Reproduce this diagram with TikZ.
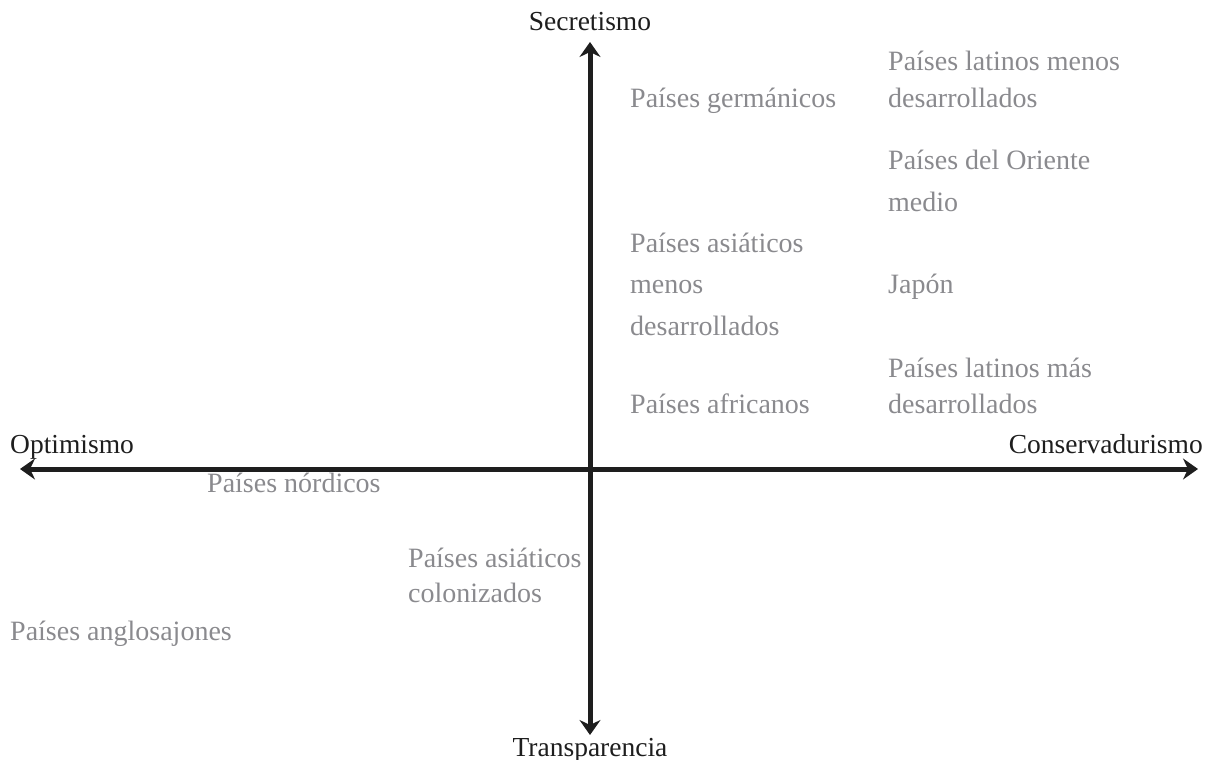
\documentclass[tikz,border=0pt]{standalone}
\usepackage{fontspec}
\setmainfont{Liberation Serif}
\usetikzlibrary{arrows.meta}
\definecolor{axisc}{HTML}{1E1E1E}
\definecolor{grayt}{HTML}{8A8A8E}
\tikzset{
  axislabel/.style={inner sep=0pt, text=axisc, font=\fontsize{27.5}{38}\selectfont, anchor=base},
  country/.style={inner sep=0pt, text=grayt, align=left, anchor=base west, font=\fontsize{28}{#1}\selectfont},
  country/.default=40,
  axisline/.style={line width=5pt, draw=axisc, {Stealth[length=15pt,width=21pt,inset=5pt]}-{Stealth[length=15pt,width=21pt,inset=5pt]}}
}
\begin{document}
\begin{tikzpicture}[x=1pt,y=-1pt]
\useasboundingbox (0,0) rectangle (1205,760);
\coordinate (top) at (590,42);
\coordinate (bottom) at (590,735);
\coordinate (left) at (20,469);
\coordinate (right) at (1198,469);
\draw[axisline] (left) -- (right);
\draw[axisline] (top) -- (bottom);
\node[axislabel] (sec) at (590,31) {Secretismo};
\node[axislabel] (tra) at (590,756) {Transparencia};
\node[axislabel, anchor=base west] (opt) at (10,453) {Optimismo};
\node[axislabel, anchor=base east] (con) at (1203,453) {Conservadurismo};
\node[country] (ger) at (630,107) {Países germánicos};
\node[country=37] (lmd) at (888,107) {Países latinos menos\\desarrollados};
\node[country=42] (ori) at (888,211) {Países del Oriente\\medio};
\node[country=41.5] (asi) at (630,335) {Países asiáticos\\menos\\desarrollados};
\node[country] (jap) at (888,293) {Japón};
\node[country=36] (lms) at (888,413) {Países latinos más\\desarrollados};
\node[country] (afr) at (630,413) {Países africanos};
\node[country] (nor) at (207,492) {Países nórdicos};
\node[country=35] (col) at (408,602) {Países asiáticos\\colonizados};
\node[country] (ang) at (10,640) {Países anglosajones};
\end{tikzpicture}
\end{document}
